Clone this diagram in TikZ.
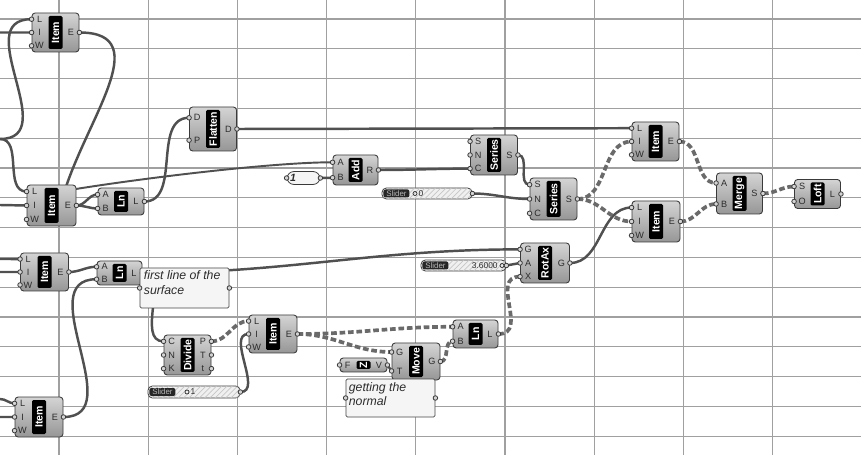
\documentclass[tikz,border=0pt]{standalone}
\usepackage{fontspec}
\setmainfont{Liberation Sans}
\usetikzlibrary{calc,patterns}
\pgfdeclarelayer{background}
\pgfsetlayers{background,main}

\definecolor{canvas}{HTML}{FFFFFF}
\definecolor{gridline}{HTML}{A0A0A0}
\definecolor{wirecol}{HTML}{505050}
\definecolor{dashcol}{HTML}{6A6A6A}
\definecolor{boxtop}{HTML}{D4D4D4}
\definecolor{boxbot}{HTML}{969696}
\definecolor{boxline}{HTML}{3A3A3A}
\definecolor{letter}{HTML}{2C2C2C}
\definecolor{panelfill}{HTML}{F5F5F5}

% component: name, position, width, height, title
\newcommand{\ghcomp}[5]{%
  \node[ghbox, minimum width={#3*0.02cm}, minimum height={#4*0.02cm}] (#1) at #2 {};
  \node[ghstrip, minimum width={(#4-6)*0.02cm}] (#1-t) at (#1.center) {#5};
}
% input and output grips, spread evenly down the sides
\newcommand{\ghin}[2]{%
  \foreach \gp [count=\gn] in {#2} {\xdef\ghcount{\gn}}%
  \foreach \gp [count=\gi] in {#2} {%
    \coordinate (#1-i\gp) at ($(#1.north west)!{(\gi-0.5)/\ghcount}!(#1.south west)$);
    \node[grip] (#1-gi\gp) at (#1-i\gp) {};
    \node[port] (#1-li\gp) at ($(#1-i\gp)+(8,0)$) {\gp};
  }%
}
\newcommand{\ghout}[2]{%
  \foreach \gp [count=\gn] in {#2} {\xdef\ghcount{\gn}}%
  \foreach \gp [count=\gi] in {#2} {%
    \coordinate (#1-o\gp) at ($(#1.north east)!{(\gi-0.5)/\ghcount}!(#1.south east)$);
    \node[grip] (#1-go\gp) at (#1-o\gp) {};
    \node[port] (#1-lo\gp) at ($(#1-o\gp)+(-8.5,0)$) {\gp};
  }%
}

\begin{document}
\begin{tikzpicture}[x=0.02cm, y=0.02cm,
    ghbox/.style={rectangle, rounded corners=1.8pt, draw=boxline, line width=0.5pt,
      top color=boxtop, bottom color=boxbot, inner sep=0pt},
    ghstrip/.style={rectangle, rotate=90, fill=black, text=white, inner sep=0pt,
      minimum height=14*0.02cm, rounded corners=0.8pt, font=\fontsize{6}{6}\selectfont\bfseries},
    grip/.style={circle, draw=boxline, fill=boxtop, line width=0.45pt, inner sep=0pt, minimum size=2.6pt},
    port/.style={font=\fontsize{5.2}{5.2}\selectfont, text=letter, inner sep=0pt},
    wire/.style={draw=wirecol, line width=1.4pt},
    dwire/.style={draw=dashcol, line width=2.1pt, dash pattern=on 3.2pt off 1.6pt},
    sliderbody/.style={rectangle, rounded corners=2.5pt, draw=boxline, line width=0.45pt, fill=gray!12,
      postaction={pattern=north east lines, pattern color=gray!45}, inner sep=0pt},
    sliderlab/.style={rectangle, fill=black!85, text=gray!55, rounded corners=1.2pt, inner sep=0pt,
      minimum width=26*0.02cm, minimum height=8*0.02cm, font=\fontsize{4.5}{4.5}\selectfont},
    knob/.style={circle, draw=letter, line width=0.4pt, inner sep=0pt, minimum size=2.3pt},
    valtext/.style={font=\fontsize{4.8}{4.8}\selectfont, text=letter, inner sep=0pt},
    panel/.style={rectangle, draw=gray!55!black, line width=0.45pt, fill=panelfill, rounded corners=0.8pt, inner sep=0pt},
    paneltext/.style={font=\fontsize{7}{8.3}\selectfont\itshape, text=letter, align=left, anchor=north west, inner sep=0pt}]
  \useasboundingbox (0,0) rectangle (861,-455);

  % ---------- top left ----------
  \ghcomp{item1}{(55.5,-32.5)}{47}{39}{Item}
  \ghin{item1}{L,I,W} \ghout{item1}{E}
  \ghcomp{item3}{(51.5,-205.5)}{49}{41}{Item}
  \ghin{item3}{L,I,W} \ghout{item3}{E}
  \ghcomp{ln1}{(121,-201.5)}{46}{27}{Ln}
  \ghin{ln1}{A,B} \ghout{ln1}{L}
  \ghcomp{flatten}{(213,-129)}{47}{44}{Flatten}
  \ghin{flatten}{D,P} \ghout{flatten}{D}

  % ---------- series ----------
  \node[rectangle, rounded corners=4pt, draw=boxline, line width=0.45pt, fill=panelfill,
    minimum width=33*0.02cm, minimum height=13*0.02cm, inner sep=0pt] (num1) at (303.5,-178) {};
  \node[font=\fontsize{6}{6}\selectfont\itshape\bfseries, text=letter, inner sep=0pt] (num1-v) at (293,-178) {1};
  \coordinate (num1-i) at (num1.west); \node[grip] (num1-gi) at (num1-i) {};
  \coordinate (num1-o) at (num1.east); \node[grip] (num1-go) at (num1-o) {};
  \ghcomp{add}{(355.5,-170)}{45}{30}{Add}
  \ghin{add}{A,B} \ghout{add}{R}
  \ghcomp{series1}{(494,-155)}{47}{40}{Series}
  \ghin{series1}{S,N,C} \ghout{series1}{S}
  \ghcomp{series2}{(553.5,-199)}{47}{42}{Series}
  \ghin{series2}{S,N,C} \ghout{series2}{S}
  \node[sliderbody, minimum width=90*0.02cm, minimum height=11*0.02cm] (slider0) at (427,-193.5) {};
  \node[sliderlab, anchor=west] (slider0-l) at ($(slider0.west)+(1.5,0)$) {Slider};
  \node[knob] (slider0-k) at (415,-193.5) {};
  \node[valtext] (slider0-v) at (421,-193.5) {0};
  \coordinate (slider0-o) at (slider0.east); \node[grip] (slider0-g) at (slider0-o) {};

  % ---------- right ----------
  \ghcomp{item10}{(655.5,-141.5)}{47}{39}{Item}
  \ghin{item10}{L,I,W} \ghout{item10}{E}
  \ghcomp{item11}{(656,-221.5)}{48}{41}{Item}
  \ghin{item11}{L,I,W} \ghout{item11}{E}
  \ghcomp{merge}{(739.5,-193.5)}{46}{41}{Merge}
  \ghin{merge}{A,B} \ghout{merge}{S}
  \ghcomp{loft}{(817.5,-194)}{46}{29}{Loft}
  \ghin{loft}{S,O} \ghout{loft}{L}

  % ---------- second row ----------
  \ghcomp{item14}{(44.5,-272)}{48}{38}{Item}
  \ghin{item14}{L,I,W} \ghout{item14}{E}
  \ghcomp{ln2}{(119.5,-273)}{45}{24}{Ln}
  \ghin{ln2}{A,B} \ghout{ln2}{L}
  \node[panel, minimum width=89*0.02cm, minimum height=40*0.02cm] (panel1) at (184.5,-288) {};
  \node[paneltext] (panel1-txt) at (143.5,-270.5) {first line of the\\surface};
  \coordinate (panel1-i) at (panel1.west); \node[grip] (panel1-gi) at (panel1-i) {};
  \coordinate (panel1-o) at (panel1.east); \node[grip] (panel1-go) at (panel1-o) {};
  \ghcomp{rotax}{(545,-263)}{49}{40}{RotAx}
  \ghin{rotax}{G,A,X} \ghout{rotax}{G}
  \node[sliderbody, minimum width=85*0.02cm, minimum height=11*0.02cm] (slider36) at (463.5,-265.5) {};
  \node[sliderlab, anchor=west] (slider36-l) at ($(slider36.west)+(1.5,0)$) {Slider};
  \node[valtext, anchor=east] (slider36-v) at (498,-265.5) {3.6000};
  \node[knob] (slider36-k) at (502,-265.5) {};
  \coordinate (slider36-o) at (slider36.east); \node[grip] (slider36-g) at (slider36-o) {};

  % ---------- bottom ----------
  \ghcomp{divide}{(187.5,-355)}{47}{40}{Divide}
  \ghin{divide}{C,N,K} \ghout{divide}{P,T,t}
  \ghcomp{item20}{(273,-334)}{48}{38}{Item}
  \ghin{item20}{L,I,W} \ghout{item20}{E}
  \node[sliderbody, minimum width=92*0.02cm, minimum height=12*0.02cm] (slider1) at (194,-392) {};
  \node[sliderlab, anchor=west] (slider1-l) at ($(slider1.west)+(1.5,0)$) {Slider};
  \node[knob] (slider1-k) at (187,-392) {};
  \node[valtext] (slider1-v) at (193,-392) {1};
  \coordinate (slider1-o) at (slider1.east); \node[grip] (slider1-g) at (slider1-o) {};
  \ghcomp{ln22}{(475.5,-334)}{45}{28}{Ln}
  \ghin{ln22}{A,B} \ghout{ln22}{L}
  \ghcomp{move}{(416,-361.5)}{48}{37}{Move}
  \ghin{move}{G,T} \ghout{move}{G}
  \ghcomp{vecz}{(363.5,-365)}{47}{14}{Z}
  \ghin{vecz}{F} \ghout{vecz}{V}
  \node[panel, minimum width=89*0.02cm, minimum height=38*0.02cm] (panel2) at (390.5,-398) {};
  \node[paneltext] (panel2-txt) at (348.5,-382) {getting the\\normal};
  \coordinate (panel2-i) at (panel2.west); \node[grip] (panel2-gi) at (panel2-i) {};
  \coordinate (panel2-o) at (panel2.east); \node[grip] (panel2-go) at (panel2-o) {};
  \ghcomp{item26}{(39,-417)}{48}{40}{Item}
  \ghin{item26}{L,I,W} \ghout{item26}{E}

  % free ends at the left edge, and ends hidden behind boxes
  \coordinate (edge1) at (0,-139);
  \coordinate (edge2) at (0,-32.5);
  \coordinate (edge3) at (0,-205);
  \coordinate (edge4) at (0,-259);
  \coordinate (edge5) at (0,-272);
  \coordinate (edge6) at (0,-399);
  \coordinate (edge7) at (0,-417);
  \coordinate (hid1) at (62,-200);
  \coordinate (hid2) at (58,-192);

  \begin{pgfonlayer}{background}
    \fill[canvas] (0,0) rectangle (861,-455);
    % canvas grid
    \foreach \k in {0,...,8}
      \draw[gridline, line width=0.6pt] ({59+89.2*\k},0) -- ({59+89.2*\k},-455);
    \foreach \k in {0,...,14}
      \draw[gridline, line width=0.6pt] (0,{-19-29.8*\k}) -- (861,{-19-29.8*\k});
    \begin{scope}
      \clip (0,0) rectangle (861,-455);
      % solid wires
      \draw[wire] (edge1) to[out=0,in=180,looseness=1.3] (item1-iL);
      \draw[wire] (edge2) -- (item1-iI);
      \draw[wire] (edge1) to[out=0,in=180] (item3-iL);
      \draw[wire] (edge3) -- (item3-iI);
      \draw[wire] (item1-oE) to[out=0,in=75,looseness=1.2] (hid1);
      \draw[wire, line width=1.1pt] (hid2) to[out=10,in=180,looseness=0.6] (add-iA);
      \draw[wire] (item3-oE) to[out=0,in=180] (ln1-iA);
      \draw[wire] (item3-oE) to[out=0,in=180] (ln1-iB);
      \draw[wire] (ln1-oL) to[out=0,in=180] (flatten-iD);
      \draw[wire] (flatten-oD) -- (item10-iL);
      \draw[wire] (num1-o) -- (add-iB);
      \draw[wire] (add-oR) to[out=0,in=180] (series1-iC);
      \draw[wire] (series1-oS) to[out=0,in=180] (series2-iS);
      \draw[wire] (slider0-o) to[out=0,in=180] (series2-iN);
      \draw[wire] (rotax-oG) to[out=0,in=180] (item11-iL);
      \draw[wire] (edge4) to[out=0,in=180] (item14-iL);
      \draw[wire] (edge5) -- (item14-iI);
      \draw[wire] (item14-oE) to[out=0,in=180] (ln2-iA);
      \draw[wire] (item26-oE) to[out=0,in=180,looseness=1.2] (ln2-iB);
      \draw[wire] (edge6) to[out=0,in=180] (item26-iL);
      \draw[wire] (edge7) -- (item26-iI);
      \draw[wire] (ln2-oL) to[out=0,in=180] (divide-iC);
      \draw[wire] (ln2-oL) to[out=0,in=180] (rotax-iG);
      \draw[wire] (slider1-o) to[out=0,in=180] (item20-iI);
      \draw[wire] (slider36-o) -- (rotax-iA);
      \draw[wire] (vecz-oV) -- (move-iT);
      % list wires
      \draw[dwire] (series2-oS) to[out=0,in=180] (item10-iI);
      \draw[dwire] (series2-oS) to[out=0,in=180] (item11-iI);
      \draw[dwire] (item10-oE) to[out=0,in=180] (merge-iA);
      \draw[dwire] (item11-oE) to[out=0,in=180] (merge-iB);
      \draw[dwire] (merge-oS) to[out=0,in=180] (loft-iS);
      \draw[dwire] (divide-oP) to[out=0,in=180] (item20-iL);
      \draw[dwire] (item20-oE) to[out=0,in=180] (ln22-iA);
      \draw[dwire] (item20-oE) to[out=0,in=180] (move-iG);
      \draw[dwire] (move-oG) to[out=0,in=180] (ln22-iB);
      \draw[dwire] (ln22-oL) to[out=0,in=180,looseness=1.3] (rotax-iX);
    \end{scope}
  \end{pgfonlayer}
\end{tikzpicture}
\end{document}
